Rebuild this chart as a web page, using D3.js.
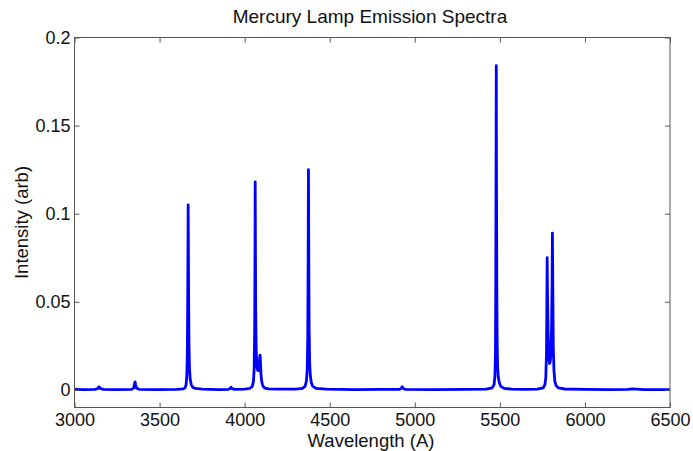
<!DOCTYPE html>
<html>
<head>
<meta charset="utf-8">
<script src="https://cdn.jsdelivr.net/npm/d3@7"></script>
<style>
  body { margin: 0; background: #fff; }
  text { font-family: "Liberation Sans", Arial, sans-serif; }
</style>
</head>
<body>
<script>
// spectrum (wavelength in A, intensity arb)
const wavelength = [
  3000, 3060, 3120, 3138, 3144, 3150, 3170, 3250, 3335, 3348, 3353, 3356, 3359, 3365, 3380, 3480,
  3600, 3640, 3650, 3656, 3660, 3663, 3665, 3667, 3668, 3669, 3671, 3673, 3676, 3680, 3686, 3695, 3710, 3750,
  3850, 3905, 3915, 3920, 3926, 3940, 4000, 4030, 4045, 4052, 4056, 4059, 4061, 4062, 4063, 4065, 4068,
  4072, 4077, 4082, 4086, 4089, 4091, 4093, 4096, 4100, 4106, 4115, 4140, 4200,
  4300, 4340, 4355, 4363, 4368, 4371, 4373, 4375, 4377, 4379, 4382, 4386, 4392, 4400, 4420, 4480,
  4650, 4800, 4910, 4922, 4926, 4931, 4945, 5100, 5300,
  5420, 5455, 5466, 5471, 5474, 5476, 5478, 5479, 5480, 5482, 5484, 5487, 5491, 5497, 5505, 5525, 5570,
  5650, 5720, 5755, 5765, 5770, 5774, 5776, 5778, 5780, 5784, 5788, 5792, 5796, 5800, 5804, 5807, 5809,
  5811, 5814, 5818, 5823, 5830, 5845, 5880, 6000, 6150, 6250, 6280, 6350, 6500
];
const intensity = [
  0.0003, 0.0002, 0.0003, 0.0008, 0.0018, 0.0009, 0.0003, 0.0002, 0.0003, 0.001, 0.0035, 0.0045, 0.003, 0.001, 0.0003, 0.0002,
  0.0003, 0.0006, 0.0012, 0.003, 0.008, 0.02, 0.045, 0.08, 0.105, 0.085, 0.05, 0.025, 0.012, 0.006, 0.003, 0.0015, 0.0008, 0.0004,
  0.0002, 0.0003, 0.0008, 0.0015, 0.0007, 0.0003, 0.0004, 0.0008, 0.002, 0.005, 0.012, 0.035, 0.08, 0.118, 0.09, 0.045, 0.022,
  0.013, 0.011, 0.011, 0.014, 0.019, 0.0197, 0.016, 0.009, 0.005, 0.0025, 0.0012, 0.0006, 0.0004,
  0.0004, 0.0009, 0.002, 0.005, 0.012, 0.03, 0.07, 0.125, 0.075, 0.035, 0.016, 0.008, 0.004, 0.002, 0.0009, 0.0004,
  0.0002, 0.0003, 0.0003, 0.001, 0.0018, 0.0008, 0.0003, 0.0002, 0.0003,
  0.0004, 0.0012, 0.003, 0.008, 0.02, 0.06, 0.14, 0.184, 0.13, 0.06, 0.028, 0.013, 0.007, 0.004, 0.002, 0.0009, 0.0004,
  0.0003, 0.0004, 0.0012, 0.003, 0.007, 0.02, 0.045, 0.075, 0.055, 0.03, 0.018, 0.015, 0.016, 0.02, 0.035, 0.06, 0.089,
  0.06, 0.025, 0.011, 0.005, 0.0025, 0.0011, 0.0005, 0.0003, 0.0002, 0.0003, 0.0006, 0.0002, 0.0002
];

const xTicks = [3000, 3500, 4000, 4500, 5000, 5500, 6000, 6500];
const yTicks = [0, 0.05, 0.1, 0.15, 0.2];
const yTickLabels = ["0", "0.05", "0.1", "0.15", "0.2"];

const W = 693, H = 451;
const plotLeft = 74.5, plotRight = 670, plotTop = 37.5, plotBottom = 407.5;

const svg = d3.select("body").append("svg")
  .attr("width", W)
  .attr("height", H);

const x = d3.scaleLinear().domain([3000, 6500]).range([plotLeft, plotRight]);
const y = d3.scaleLinear().domain([-0.01, 0.2]).range([plotBottom, plotTop]);

const data = wavelength.map((w, i) => ({w: w, v: intensity[i]}));

svg.append("path")
  .datum(data)
  .attr("fill", "none")
  .attr("stroke", "#0000ff")
  .attr("stroke-width", 2.8)
  .attr("stroke-linejoin", "round")
  .attr("d", d3.line().x(d => x(d.w)).y(d => y(d.v)));

// box
svg.append("rect")
  .attr("x", plotLeft).attr("y", plotTop)
  .attr("width", plotRight - plotLeft).attr("height", plotBottom - plotTop)
  .attr("fill", "none")
  .attr("stroke", "#555")
  .attr("stroke-width", 1);

function style(g, labels) {
  g.attr("font-family", null).attr("font-size", null);
  g.select(".domain").remove();
  g.selectAll(".tick line").attr("stroke", "#555");
  g.selectAll(".tick text")
    .attr("fill", "#111")
    .style("font-size", "18px")
    .style("display", labels ? null : "none");
}

svg.append("g")
  .attr("transform", "translate(0," + plotBottom + ")")
  .call(d3.axisBottom(x).tickValues(xTicks).tickFormat(d => d)
    .tickSizeInner(-5).tickSizeOuter(0).tickPadding(6))
  .call(g => style(g, true));

svg.append("g")
  .attr("transform", "translate(0," + plotTop + ")")
  .call(d3.axisTop(x).tickValues(xTicks).tickSizeInner(-5).tickSizeOuter(0))
  .call(g => style(g, false));

svg.append("g")
  .attr("transform", "translate(" + plotLeft + ",0)")
  .call(d3.axisLeft(y).tickValues(yTicks).tickFormat((d, i) => yTickLabels[i])
    .tickSizeInner(-5).tickSizeOuter(0).tickPadding(4))
  .call(g => style(g, true));

svg.append("g")
  .attr("transform", "translate(" + plotRight + ",0)")
  .call(d3.axisRight(y).tickValues(yTicks).tickSizeInner(-5).tickSizeOuter(0))
  .call(g => style(g, false));

svg.append("text")
  .attr("x", 370)
  .attr("y", 22.5)
  .attr("text-anchor", "middle")
  .attr("fill", "#111")
  .style("font-size", "19px")
  .text("Mercury Lamp Emission Spectra");

svg.append("text")
  .attr("x", 371)
  .attr("y", 447)
  .attr("text-anchor", "middle")
  .attr("fill", "#111")
  .style("font-size", "18.5px")
  .text("Wavelength (A)");

svg.append("text")
  .attr("transform", "translate(28," + (plotTop + plotBottom) / 2 + ") rotate(-90)")
  .attr("text-anchor", "middle")
  .attr("fill", "#111")
  .style("font-size", "18.5px")
  .text("Intensity (arb)");
</script>
</body>
</html>
